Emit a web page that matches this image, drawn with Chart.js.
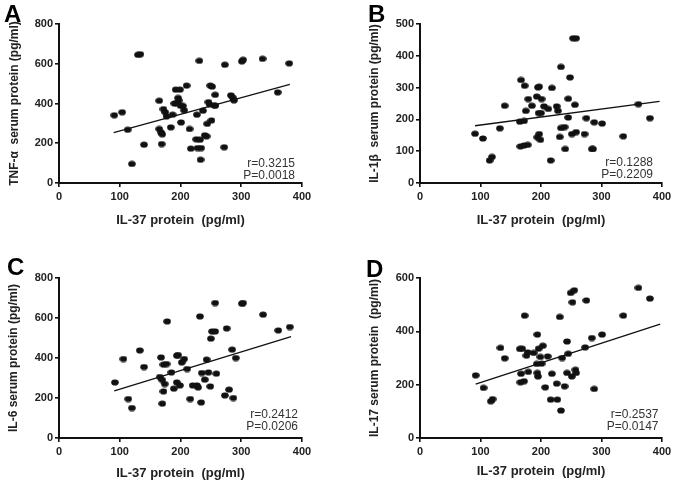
<!DOCTYPE html>
<html><head><meta charset="utf-8">
<script src="https://cdn.jsdelivr.net/npm/chart.js@4/dist/chart.umd.min.js"></script>
<style>
html,body{margin:0;padding:0;background:#fff;}
#wrap{position:relative;width:677px;height:485px;overflow:hidden;background:#fff;}
canvas{position:absolute;}
</style></head><body>
<div id="wrap">
<canvas id="cA" width="338" height="242" style="left:0;top:0"></canvas>
<canvas id="cB" width="339" height="242" style="left:338px;top:0"></canvas>
<canvas id="cC" width="338" height="245" style="left:0;top:240px"></canvas>
<canvas id="cD" width="339" height="245" style="left:338px;top:240px"></canvas>
</div>
<script>
// ---- data (IL-37 protein, pg/ml vs serum cytokine, pg/ml) ----
const xTicks = [0, 100, 200, 300, 400];

const tnfX = [91,104,113,120,130,134,140,165,165,168,169,170,172,175,177,184,187,190,192,194,196,197,199,200,201,204,206,210,215,217,226,227,228,231,232,233,234,237,240,243,244,246,248,249,251,252,256,257,257,273,272,283,286,288,301,303,335,360,379];
const tnfY = [341,356,268,96,645,648,193,414,272,255,196,245,372,356,335,280,344,400,470,402,428,415,470,389,305,388,366,490,272,173,220,344,176,615,218,117,176,364,240,235,298,407,395,490,315,485,390,444,389,595,180,441,430,416,612,620,625,456,602];
const tnfFit = [{x:90,y:253},{x:380,y:496}];

const il1bX = [91,104,115,119,132,140,165,172,166,172,178,167,173,175,179,185,193,195,197,194,197,196,200,199,201,205,212,216,218,226,228,231,233,233,239,240,245,245,248,251,253,256,258,258,272,275,284,286,288,301,336,361,380];
const il1bY = [155,140,71,82,172,243,193,195,115,118,120,324,306,227,264,243,272,301,303,144,154,220,220,136,264,241,233,71,299,241,227,145,173,365,176,107,265,206,332,154,455,246,160,455,154,204,107,107,191,187,147,248,204];
const il1bFit = [{x:91,y:180},{x:396,y:257}];

const il6X = [92,106,114,120,133,140,166,168,170,170,172,172,174,177,178,185,189,194,196,194,199,202,206,211,216,220,227,229,232,234,235,240,243,246,249,250,252,257,257,259,273,276,280,285,287,291,301,303,336,361,380];
const il6Y = [278,395,195,150,438,355,305,403,290,172,367,233,270,370,583,328,247,412,415,278,263,378,395,345,195,263,263,253,608,178,325,292,392,328,258,497,533,533,675,322,213,548,242,442,200,400,672,675,617,538,555];
const il6Fit = [{x:91,y:236},{x:382,y:507}];

const il17X = [92,105,117,120,133,140,165,169,166,172,167,173,176,178,179,188,193,194,195,194,196,199,201,203,207,211,216,218,226,227,231,233,235,239,243,245,243,249,251,252,255,257,258,273,275,284,288,301,336,361,380];
const il17Y = [235,188,138,146,338,299,334,335,209,213,241,459,309,321,248,319,278,244,231,388,335,304,279,346,190,306,144,241,204,144,454,103,300,194,362,316,244,544,231,509,554,256,244,340,516,375,184,388,459,563,523];
const il17Fit = [{x:92,y:202},{x:397,y:427}];

// ---- helpers ----
const FAM = '"Liberation Sans", Arial, Helvetica, sans-serif';

// elliptical dot marker (slightly wider than tall, as in the reference)
const dot = document.createElement('canvas');
dot.width = 8; dot.height = 7;
(function () {
  const g = dot.getContext('2d');
  g.fillStyle = '#111';
  g.beginPath();
  g.ellipse(4, 3.5, 3.8, 3.1, 0, 0, Math.PI * 2);
  g.fill();
})();

const annot = {
  id: 'annot',
  afterDraw(chart, args, o) {
    const c = chart.ctx, a = chart.chartArea;
    c.save();
    c.font = 'bold 24px ' + FAM;
    c.fillStyle = '#000'; c.textAlign = 'left'; c.textBaseline = 'alphabetic';
    c.fillText(o.letter, o.lx, o.ly);
    c.font = '12px ' + FAM;
    c.fillStyle = '#333'; c.textAlign = 'right';
    c.fillText(o.r, a.right - o.rdx, a.bottom - o.rdy);
    c.fillText(o.p, a.right - o.rdx, a.bottom - o.rdy + 11.5);
    c.restore();
  }
};

function pts(xs, ys) { return xs.map((x, i) => ({x: x, y: ys[i]})); }

function makePanel(id, o) {
  const tickFont = {family: FAM, size: 11, weight: 'bold'};
  new Chart(document.getElementById(id), {
    type: 'scatter',
    data: { datasets: [
      { type: 'scatter', data: pts(o.xs, o.ys), pointStyle: dot, pointRadius: 4, pointHoverRadius: 4,
        backgroundColor: '#111', borderColor: '#111', borderWidth: 0 },
      { type: 'line', data: o.fit, borderColor: '#111', borderWidth: 1.3, pointRadius: 0, fill: false, tension: 0 }
    ]},
    options: {
      responsive: false, animation: false, devicePixelRatio: 1,
      layout: { padding: { top: o.top, right: o.right, left: 0, bottom: 0 } },
      plugins: { legend: {display: false}, tooltip: {enabled: false}, annot: o.annot },
      scales: {
        x: {
          type: 'linear', min: 0, max: 400,
          afterBuildTicks: s => { s.ticks = xTicks.map(v => ({value: v})); },
          ticks: { font: tickFont, color: '#222', padding: 3, maxRotation: 0, autoSkip: false },
          grid: { display: true, drawOnChartArea: false, drawTicks: true, tickLength: 4, color: '#111', lineWidth: 1.6 },
          border: { display: true, color: '#111', width: 2 },
          title: { display: true, text: o.xTitle, color: '#222', font: {family: FAM, size: 13, weight: 'bold'},
                   padding: {top: 0, bottom: o.xtPad} },
          afterFit: s => { s.height = o.xH; }
        },
        y: {
          type: 'linear', min: 0, max: o.yTicks[o.yTicks.length - 1],
          afterBuildTicks: s => { s.ticks = o.yTicks.map(v => ({value: v})); },
          ticks: { font: tickFont, color: '#222', padding: 2, autoSkip: false },
          grid: { display: true, drawOnChartArea: false, drawTicks: true, tickLength: 4, color: '#111', lineWidth: 1.6 },
          border: { display: true, color: '#111', width: 2 },
          title: { display: true, text: o.yTitle, color: '#222', font: {family: FAM, size: 12, weight: 'bold'},
                   padding: {top: o.ytPad, bottom: 0} },
          afterFit: s => { s.width = o.yW; }
        }
      }
    },
    plugins: [annot]
  });
}

makePanel('cA', { xs: tnfX, ys: tnfY, fit: tnfFit, yTicks: [0,200,400,600,800],
  xTitle: 'IL-37 protein  (pg/ml)', yTitle: 'TNF-α  serum protein (pg/ml)',
  top: 24, right: 36, yW: 59, xH: 59, ytPad: 7, xtPad: 14,
  annot: { letter: 'A', lx: 4, ly: 22, r: 'r=0.3215', p: 'P=0.0018', rdx: 7, rdy: 16 } });

makePanel('cB', { xs: il1bX, ys: il1bY, fit: il1bFit, yTicks: [0,100,200,300,400,500],
  xTitle: 'IL-37 protein  (pg/ml)', yTitle: 'IL-1β  serum protein (pg/ml)',
  top: 24, right: 15, yW: 82, xH: 59, ytPad: 29.5, xtPad: 14,
  annot: { letter: 'B', lx: 30, ly: 22, r: 'r=0.1288', p: 'P=0.2209', rdx: 9, rdy: 17 } });

makePanel('cC', { xs: il6X, ys: il6Y, fit: il6Fit, yTicks: [0,200,400,600,800],
  xTitle: 'IL-37 protein  (pg/ml)', yTitle: 'IL-6 serum protein (pg/ml)',
  top: 38, right: 36, yW: 59, xH: 47, ytPad: 6, xtPad: 4,
  annot: { letter: 'C', lx: 7, ly: 35, r: 'r=0.2412', p: 'P=0.0206', rdx: 4, rdy: 20 } });

makePanel('cD', { xs: il17X, ys: il17Y, fit: il17Fit, yTicks: [0,200,400,600],
  xTitle: 'IL-37 protein  (pg/ml)', yTitle: 'IL-17 serum protein  (pg/ml)',
  top: 38, right: 15, yW: 82, xH: 47, ytPad: 29.5, xtPad: 5.5,
  annot: { letter: 'D', lx: 28, ly: 37, r: 'r=0.2537', p: 'P=0.0147', rdx: 3.5, rdy: 20 } });
</script>
</body></html>
